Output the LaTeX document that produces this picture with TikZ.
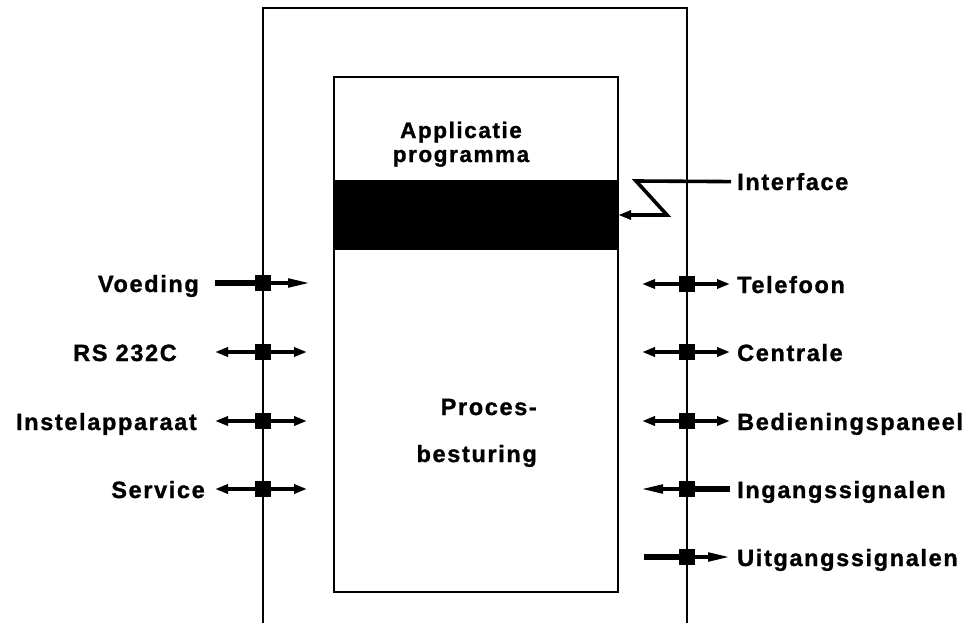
\documentclass[tikz,border=0pt]{standalone}
\usepackage{fontspec}
\setmainfont{Liberation Sans}[LetterSpace=7, BoldFeatures={FakeBold=1.2}]
\usetikzlibrary{arrows.meta}
\tikzstyle{lab} = [font=\fontsize{23.5}{26}\selectfont\bfseries, inner sep=0pt]
\tikzstyle{port} = [rectangle, fill=black, minimum size=16pt, inner sep=0pt]
\tikzstyle{sig} = [line width=4pt, >={Triangle[length=13pt,width=9pt]}]
\tikzstyle{lang} = [line width=3.6pt, >={Triangle[length=22pt,width=8.5pt]}]
\tikzstyle{feed} = [line width=6pt]
\tikzstyle{frame} = [line width=1.6pt]

\begin{document}
\begin{tikzpicture}[x=1pt, y=-1pt]
\useasboundingbox (0,0) rectangle (971,623);
%behuizing
\draw[frame] (263,623) -- (263,8) -- (687,8) -- (687,623);
\node[rectangle, draw=black, line width=2.2pt, minimum width=284pt, minimum height=515pt](kern) at (476,334.5){};
\node[rectangle, fill=black, minimum width=284pt, minimum height=70pt, inner sep=0pt](band) at (476,215){};
\node[lab, font=\fontsize{22.5}{24}\selectfont\bfseries, align=center, anchor=base](app) at (461,162){Applicatie\\programma};
\node[lab, align=right, anchor=base east](proc) at (537,462){Proces-\\[21pt]besturing};
\node[lab, anchor=base west](ifc) at (737,190){Interface};
%aansluitingen links
\node[port](voe) at (263,283){};
\node[port](rs) at (263,352){};
\node[port](ins) at (263,421){};
\node[port](ser) at (263,489){};
\node[lab, anchor=base east](lvoe) at (199,292){Voeding};
\node[lab, anchor=base east](lrs) at (177,361){RS 232C};
\node[lab, anchor=base east](lins) at (197,430){Instelapparaat};
\node[lab, anchor=base east](lser) at (205,498){Service};
%aansluitingen rechts
\node[port](tel) at (687,284){};
\node[port](cen) at (687,352){};
\node[port](bed) at (687,421){};
\node[port](ing) at (687,489){};
\node[port](uit) at (687,557){};
\node[lab, anchor=base west](ltel) at (737,293){Telefoon};
\node[lab, anchor=base west](lcen) at (737,361){Centrale};
\node[lab, anchor=base west](lbed) at (737,430){Bedieningspaneel};
\node[lab, anchor=base west](ling) at (737,498){Ingangssignalen};
\node[lab, anchor=base west](luit) at (737,566){Uitgangssignalen};
%verbindingen
\draw[sig, ->, line width=3.6pt, line join=miter] ([xshift=-6pt]ifc.west) -- (636,181) -- (667,215) -- (band.east);
\draw[feed] ([xshift=-48pt]voe.center) -- (voe.center);
\draw[lang, ->] (voe.center) -- ([xshift=47pt]voe.center);
\draw[sig, <->] ([xshift=-48pt]rs.center) -- ([xshift=44pt]rs.center);
\draw[sig, <->] ([xshift=-48pt]ins.center) -- ([xshift=44pt]ins.center);
\draw[sig, <->] ([xshift=-48pt]ser.center) -- ([xshift=44pt]ser.center);
\draw[sig, <->] ([xshift=-45pt]tel.center) -- ([xshift=43pt]tel.center);
\draw[sig, <->] ([xshift=-45pt]cen.center) -- ([xshift=43pt]cen.center);
\draw[sig, <->] ([xshift=-45pt]bed.center) -- ([xshift=43pt]bed.center);
\draw[lang, <-] ([xshift=-46pt]ing.center) -- (ing.center);
\draw[feed] (ing.center) -- ([xshift=43pt]ing.center);
\draw[feed] ([xshift=-43pt]uit.center) -- (uit.center);
\draw[lang, ->] (uit.center) -- ([xshift=43pt]uit.center);
\end{tikzpicture}
\end{document}
